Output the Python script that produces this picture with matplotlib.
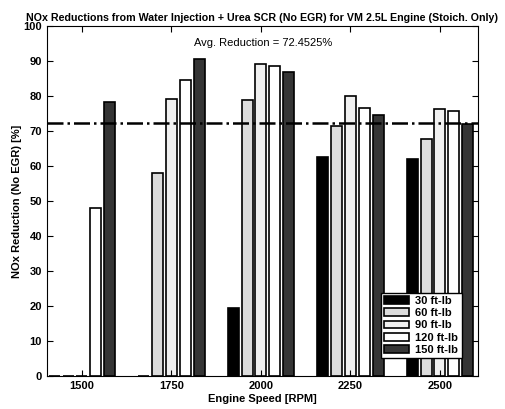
import matplotlib.pyplot as plt
import numpy as np

plt.rcParams['font.family'] = ['Liberation Sans', 'DejaVu Sans']

speeds = ['1500', '1750', '2000', '2250', '2500']
loads = ['30 ft-lb', '60 ft-lb', '90 ft-lb', '120 ft-lb', '150 ft-lb']

# NOx reduction [%] per load, one value per engine speed
red_30 = [0, 0, 19.5, 62.5, 62.1]
red_60 = [0, 57.9, 79.0, 71.4, 67.8]
red_90 = [0, 79.1, 89.2, 80.1, 76.4]
red_120 = [48.0, 84.7, 88.5, 76.5, 75.7]
red_150 = [78.3, 90.7, 86.9, 74.6, 71.9]
avg_red = 72.4525

series = [red_30, red_60, red_90, red_120, red_150]
colors = ['black', '#dcdcdc', '#f0f0f0', 'white', '#353535']

fig = plt.figure(figsize=(5.05, 4.09), dpi=100)
ax = fig.add_axes([0.093, 0.081, 0.8535, 0.855])

x = np.arange(1, len(speeds) + 1)
step = 0.154
width = 0.123
for i in range(len(series)):
    ax.bar(x + (i - 2) * step, series[i], width, color=colors[i],
           edgecolor='black', linewidth=1.2, label=loads[i])

ax.axhline(avg_red, color='black', linestyle='-.', linewidth=1.8)
ax.text(2.25, 94.2, 'Avg. Reduction = %g%%' % avg_red, fontsize=8)

ax.set_xlim(0.609, 5.425)
ax.set_ylim(0, 100)
ax.set_xticks(x)
ax.set_xticklabels(speeds)
ax.set_yticks(np.arange(0, 101, 10))
ax.tick_params(direction='in', top=True, right=True, labelsize=8, length=4)
for lab in ax.get_xticklabels() + ax.get_yticklabels():
    lab.set_fontweight('bold')

ax.set_xlabel('Engine Speed [RPM]', fontsize=8, fontweight='bold', labelpad=2)
ax.set_ylabel('NOx Reduction (No EGR) [%]', fontsize=8, fontweight='bold', labelpad=1)
ax.set_title('NOx Reductions from Water Injection + Urea SCR (No EGR) for VM 2.5L Engine (Stoich. Only)',
             fontsize=7.7, fontweight='bold', pad=4)

leg = ax.legend(loc='lower right', bbox_to_anchor=(0.975, 0.035),
                prop={'weight': 'bold', 'size': 8}, fancybox=False, framealpha=1,
                edgecolor='black', borderpad=0.3, labelspacing=0.2,
                handlelength=2.2, handletextpad=0.6)
leg.get_frame().set_linewidth(1.0)

plt.savefig('out.png', dpi=100)
